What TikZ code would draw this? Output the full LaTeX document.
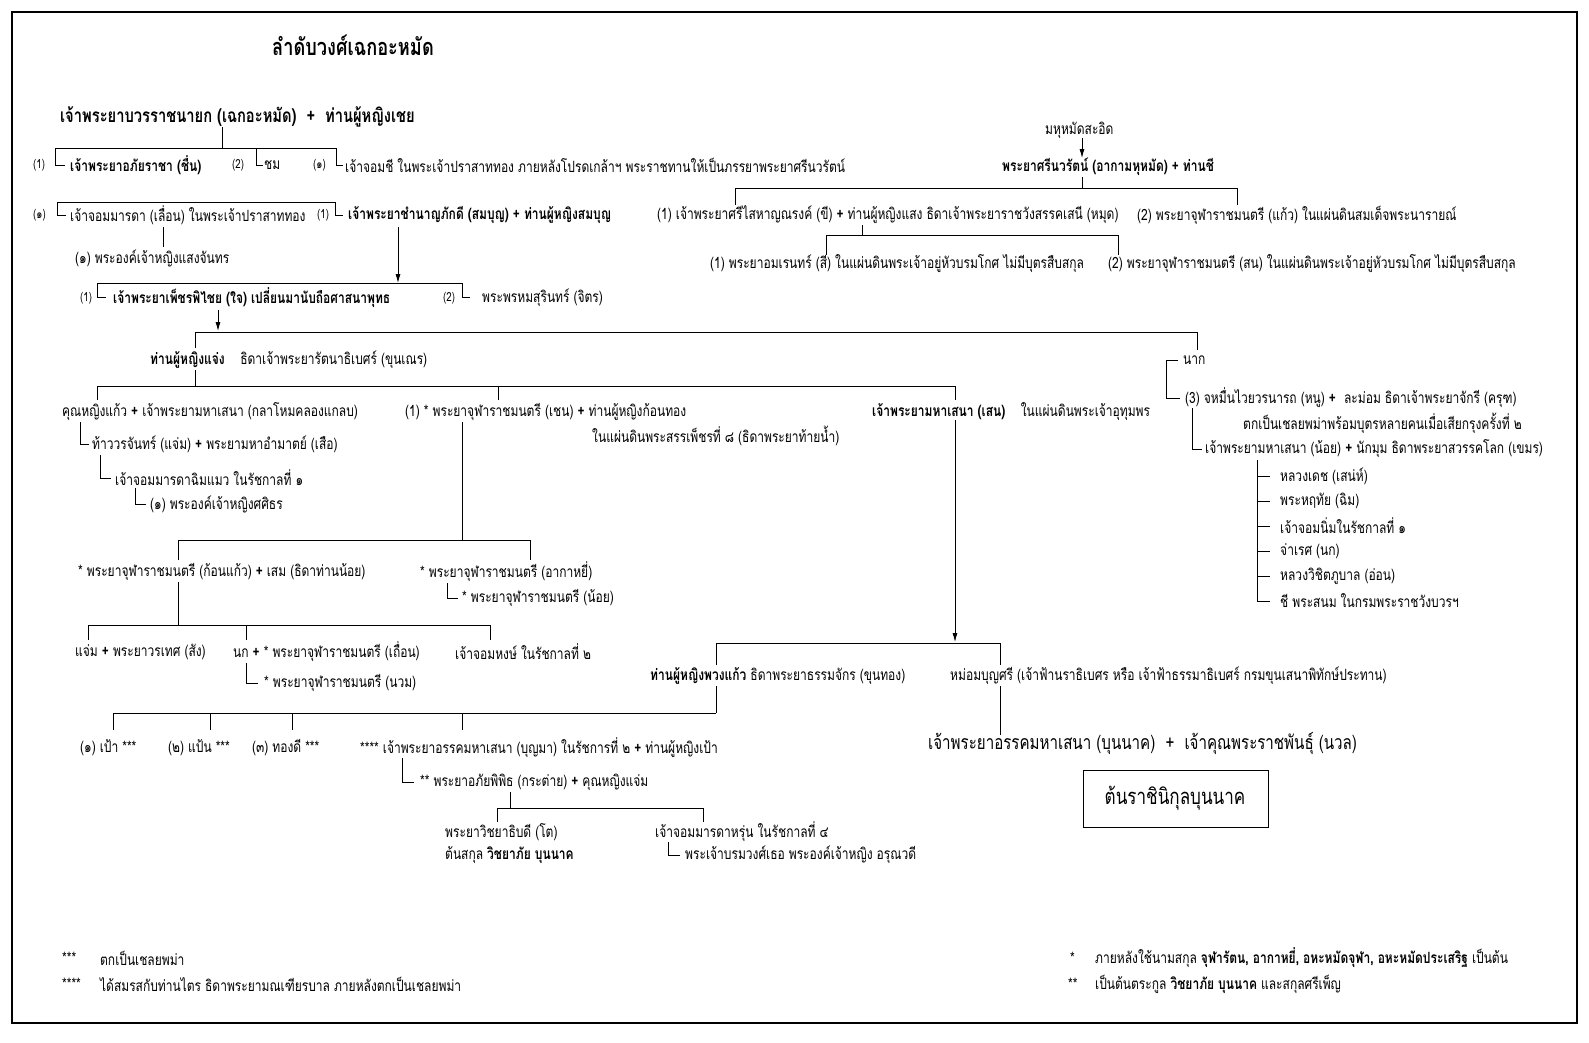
\documentclass[tikz,border=0pt]{standalone}
\usepackage{fontspec}
\usetikzlibrary{arrows.meta}
\newfontfamily\thaifont[Script=Thai,FakeStretch=0.775]{Loma}
\newcommand\plusmark{{\bfseries +}}
\begin{document}
\begin{tikzpicture}[x=1pt,y=-1pt,
  t/.style={anchor=west,inner sep=0pt,font=\thaifont\fontsize{15.5}{18}\selectfont},
  tb/.style={t,font=\thaifont\bfseries\fontsize{15.5}{18}\selectfont},
  tn/.style={t,font=\thaifont\fontsize{12.5}{15}\selectfont},
  ln/.style={line width=0.8pt},
  arr/.style={ln,-{Latex[length=9pt,width=5pt]}}]
\useasboundingbox (0,0) rectangle (1589,1042);
\draw[line width=1.2pt] (12,12) rectangle (1577,1023);
% title
\node[tb,font=\thaifont\bfseries\fontsize{23.5}{27}\selectfont] (title) at (272,45) {ลำดับวงศ์เฉกอะหมัด};
% row A
\node[tb,font=\thaifont\bfseries\fontsize{19}{22}\selectfont] (a1) at (60,117) {เจ้าพระยาบวรราชนายก (เฉกอะหมัด) \ + \ ท่านผู้หญิงเชย};
\coordinate (ja) at (222,148);
\draw[ln] (222,127) -- (ja);
\draw[ln] (55,165) -- (55,148) -- (336,148) -- (336,165) -- (343,165);
\draw[ln] (55,165) -- (65,165);
\draw[ln] (256,148) -- (256,165) -- (263,165);
\node[tn] (b1n) at (33,165) {(1)};
\node[tb] (b1) at (70,165) {เจ้าพระยาอภัยราชา (ชื่น)};
\node[tn] (b2n) at (232,165) {(2)};
\node[t] (b2) at (264,165) {ชม};
\node[tn] (b3n) at (313,165) {(๑)};
\node[t] (b3) at (345,165) {เจ้าจอมชี ในพระเจ้าปราสาททอง ภายหลังโปรดเกล้าฯ พระราชทานให้เป็นภรรยาพระยาศรีนวรัตน์};
% row C
\draw[ln] (66,215) -- (57,215) -- (57,202) -- (335,202) -- (335,215) -- (343,215);
\node[tn] (c1n) at (33,215) {(๑)};
\node[t] (c1) at (70,215) {เจ้าจอมมารดา (เลื่อน) ในพระเจ้าปราสาททอง};
\node[tn] (c2n) at (317,215) {(1)};
\node[tb] (c2) at (348,215) {เจ้าพระยาชำนาญภักดี (สมบุญ) \plusmark\ ท่านผู้หญิงสมบุญ};
\draw[ln] (163,227) -- (163,247);
\node[t] (c3) at (75,258) {(๑) พระองค์เจ้าหญิงแสงจันทร};
\draw[arr] (398,227) -- (398,283);
\draw[ln] (106,297) -- (97,297) -- (97,283) -- (462,283) -- (462,297) -- (470,297);
% row D
\node[tn] (d1n) at (80,298) {(1)};
\node[tb] (d1) at (113,298) {เจ้าพระยาเพ็ชรพิไชย (ใจ) เปลี่ยนมานับถือศาสนาพุทธ};
\node[tn] (d2n) at (443,298) {(2)};
\node[t] (d2) at (482,298) {พระพรหมสุรินทร์ (จิตร)};
\draw[arr] (218,310) -- (218,331);
\draw[ln] (195,348) -- (195,332) -- (1197,332) -- (1197,350);
% row E
\node[t] (e1) at (150,360) {{\bfseries ท่านผู้หญิงแจ่ง}\quad ธิดาเจ้าพระยารัตนาธิเบศร์ (ขุนเณร)};
\draw[ln] (195,370) -- (195,386);
\draw[ln] (97,400) -- (97,386) -- (955,386) -- (955,400);
\draw[ln] (498,386) -- (498,400);
% row F
\node[t] (f1) at (62,412) {คุณหญิงแก้ว \plusmark\ เจ้าพระยามหาเสนา (กลาโหมคลองแกลบ)};
\node[t] (f2) at (405,412) {(1) * พระยาจุฬาราชมนตรี (เชน) \plusmark\ ท่านผู้หญิงก้อนทอง};
\node[t] (f2b) at (592,436) {ในแผ่นดินพระสรรเพ็ชรที่ ๘ (ธิดาพระยาท้ายน้ำ)};
\node[t] (f3) at (872,412) {{\bfseries เจ้าพระยามหาเสนา (เสน)}\quad ในแผ่นดินพระเจ้าอุทุมพร};
\draw[ln] (80,422) -- (80,444) -- (89,444);
\node[t] (f4) at (92,444) {ท้าววรจันทร์ (แจ่ม) \plusmark\ พระยามหาอำมาตย์ (เสือ)};
\draw[ln] (100,455) -- (100,478) -- (111,478);
\node[t] (f5) at (115,478) {เจ้าจอมมารดาฉิมแมว ในรัชกาลที่ ๑};
\draw[ln] (135,488) -- (135,504) -- (146,504);
\node[t] (f6) at (150,504) {(๑) พระองค์เจ้าหญิงศศิธร};
% right branch
\draw[ln] (1178,360) -- (1166,360) -- (1166,398) -- (1180,398);
\node[t] (r1) at (1183,360) {นาก};
\node[t] (r2) at (1185,398) {(3) จหมื่นไวยวรนารถ (หนู) \plusmark\ \ ละม่อม ธิดาเจ้าพระยาจักรี (ครุฑ)};
\node[t] (r3) at (1243,423) {ตกเป็นเชลยพม่าพร้อมบุตรหลายคนเมื่อเสียกรุงครั้งที่ ๒};
\draw[ln] (1192,408) -- (1192,449) -- (1202,449);
\node[t] (r4) at (1205,449) {เจ้าพระยามหาเสนา (น้อย) \plusmark\ นักมุม ธิดาพระยาสวรรคโลก (เขมร)};
\draw[ln] (1257,460) -- (1257,601);
\foreach \yy/\nm/\tx in {476/s1/หลวงเดช (เสน่ห์),501/s2/พระหฤทัย (ฉิม),526/s3/เจ้าจอมนิ่มในรัชกาลที่ ๑,551/s4/จ่าเรศ (นก),576/s5/หลวงวิชิตภูบาล (อ่อน),601/s6/ชี พระสนม ในกรมพระราชวังบวรฯ}{
  \draw[ln] (1257,\yy) -- (1270,\yy);
  \node[t] (\nm) at (1280,\yy) {\tx};
}
% middle branch
\draw[ln] (462,422) -- (462,540);
\draw[ln] (178,560) -- (178,540) -- (530,540) -- (530,560);
\node[t] (g1) at (78,572) {* พระยาจุฬาราชมนตรี (ก้อนแก้ว) \plusmark\ เสม (ธิดาท่านน้อย)};
\node[t] (g2) at (420,572) {* พระยาจุฬาราชมนตรี (อากาหยี่)};
\draw[ln] (447,583) -- (447,598) -- (458,598);
\node[t] (g3) at (462,598) {* พระยาจุฬาราชมนตรี (น้อย)};
\draw[ln] (178,582) -- (178,625);
\draw[ln] (88,640) -- (88,625) -- (490,625) -- (490,640);
\draw[ln] (246,625) -- (246,640);
\node[t] (h1) at (75,652) {แจ่ม \plusmark\ พระยาวรเทศ (สัง)};
\node[t] (h2) at (233,652) {นก \plusmark\ * พระยาจุฬาราชมนตรี (เถื่อน)};
\node[t] (h3) at (455,652) {เจ้าจอมหงษ์ ในรัชกาลที่ ๒};
\draw[ln] (246,663) -- (246,683) -- (258,683);
\node[t] (h4) at (264,683) {* พระยาจุฬาราชมนตรี (นวม)};
% Sen branch
\draw[arr] (955,420) -- (955,642);
\draw[ln] (716,665) -- (716,643) -- (1000,643) -- (1000,665);
\node[t] (i1) at (650,676) {{\bfseries ท่านผู้หญิงพวงแก้ว} ธิดาพระยาธรรมจักร (ขุนทอง)};
\node[t] (i2) at (950,676) {หม่อมบุญศรี (เจ้าฟ้านราธิเบศร หรือ เจ้าฟ้าธรรมาธิเบศร์ กรมขุนเสนาพิทักษ์ประทาน)};
\draw[ln] (716,686) -- (716,713);
\draw[ln] (113,730) -- (113,713) -- (716,713);
\foreach \xx in {210,292,462} {\draw[ln] (\xx,713) -- (\xx,730);}
\node[t] (j1) at (80,748) {(๑) เป้า ***};
\node[t] (j2) at (168,748) {(๒) แป้น ***};
\node[t] (j3) at (252,748) {(๓) ทองดี ***};
\node[t] (j4) at (360,748) {**** เจ้าพระยาอรรคมหาเสนา (บุญมา) ในรัชการที่ ๒ \plusmark\ ท่านผู้หญิงเป้า};
\draw[ln] (402,758) -- (402,782) -- (414,782);
\node[t] (j5) at (420,782) {** พระยาอภัยพิพิธ (กระต่าย) \plusmark\ คุณหญิงแจ่ม};
\draw[ln] (510,792) -- (510,808);
\draw[ln] (497,822) -- (497,808) -- (703,808) -- (703,822);
\node[t] (k1) at (445,832) {พระยาวิชยาธิบดี (โต)};
\node[t] (k2) at (445,855) {ต้นสกุล {\bfseries วิชยาภัย บุนนาค}};
\node[t] (k3) at (655,832) {เจ้าจอมมารดาหรุ่น ในรัชกาลที่ ๔};
\draw[ln] (668,842) -- (668,855) -- (680,855);
\node[t] (k4) at (685,855) {พระเจ้าบรมวงศ์เธอ พระองค์เจ้าหญิง อรุณวดี};
\draw[ln] (1000,686) -- (1000,735);
\node[t,font=\thaifont\fontsize{19.5}{23}\selectfont] (l1) at (928,743) {เจ้าพระยาอรรคมหาเสนา (บุนนาค) \ + \ เจ้าคุณพระราชพันธุ์ (นวล)};
\draw[line width=1pt] (1083,770) rectangle (1268,827);
\node[t,anchor=center,font=\thaifont\fontsize{22}{26}\selectfont] (box) at (1175,798) {ต้นราชินิกุลบุนนาค};
% top right
\node[t] (m1) at (1045,130) {มหุหมัดสะอิด};
\draw[arr] (1082,138) -- (1082,158);
\node[tb] (m2) at (1002,167) {พระยาศรีนวรัตน์ (อากามหุหมัด) + ท่านชี};
\draw[ln] (1082,177) -- (1082,188);
\draw[ln] (735,205) -- (735,188) -- (1237,188) -- (1237,205);
\node[t] (m3) at (657,215) {(1) เจ้าพระยาศรีไสหาญณรงค์ (ขี) \plusmark\ ท่านผู้หญิงแสง ธิดาเจ้าพระยาราชวังสรรคเสนี (หมุด)};
\node[t] (m4) at (1137,215) {(2) พระยาจุฬาราชมนตรี (แก้ว) ในแผ่นดินสมเด็จพระนารายณ์};
\draw[ln] (862,225) -- (862,235);
\draw[ln] (826,255) -- (826,235) -- (1118,235) -- (1118,255);
\node[t] (m5) at (710,264) {(1) พระยาอมเรนทร์ (สี) ในแผ่นดินพระเจ้าอยู่หัวบรมโกศ ไม่มีบุตรสืบสกุล};
\node[t] (m6) at (1108,264) {(2) พระยาจุฬาราชมนตรี (สน) ในแผ่นดินพระเจ้าอยู่หัวบรมโกศ ไม่มีบุตรสืบสกุล};
% footer
\node[t] (n1s) at (62,958) {***};
\node[t] (n1) at (100,958) {ตกเป็นเชลยพม่า};
\node[t] (n2s) at (62,984) {****};
\node[t] (n2) at (100,984) {ได้สมรสกับท่านไตร ธิดาพระยามณเฑียรบาล ภายหลังตกเป็นเชลยพม่า};
\node[t] (n3s) at (1070,958) {*};
\node[t] (n3) at (1095,958) {ภายหลังใช้นามสกุล {\bfseries จุฬารัตน, อากาหยี่, อหะหมัดจุฬา, อหะหมัดประเสริฐ} เป็นต้น};
\node[t] (n4s) at (1068,984) {**};
\node[t] (n4) at (1095,984) {เป็นต้นตระกูล {\bfseries วิชยาภัย บุนนาค} และสกุลศรีเพ็ญ};
\end{tikzpicture}
\end{document}
